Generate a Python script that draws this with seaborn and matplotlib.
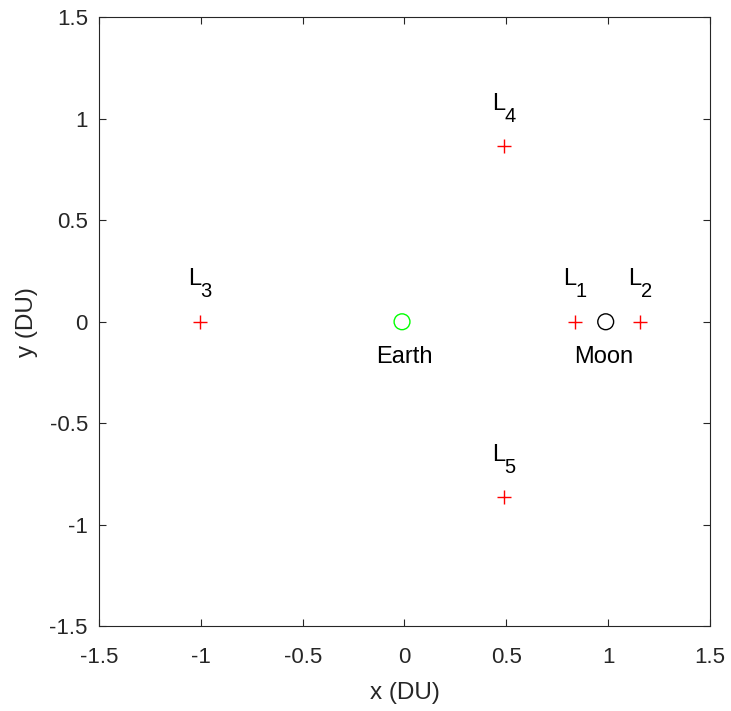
import matplotlib
matplotlib.use("Agg")
from matplotlib import pyplot as plt
import seaborn as sns
import pandas as pd

# Earth-Moon system, rotating frame (DU)
mu = 0.01215
body_names = ['Earth', 'Moon']
body_x = [-mu, 1 - mu]
body_y = [0.0, 0.0]
body_colors = ['#00ff00', 'black']

lpoint_names = ['1', '2', '3', '4', '5']
lpoint_x = [0.8369, 1.1557, -1.0051, 0.4878, 0.4878]
lpoint_y = [0.0, 0.0, 0.0, 0.8660, -0.8660]

ticks = [-1.5, -1, -0.5, 0, 0.5, 1, 1.5]
tick_labels = ['-1.5', '-1', '-0.5', '0', '0.5', '1', '1.5']

sns.set_style('white')
plt.rcParams['font.family'] = ['Liberation Sans', 'DejaVu Sans']

fig = plt.figure(figsize=(7.31, 7.11), dpi=100)
ax = fig.add_axes([0.1354, 0.1195, 0.8359, 0.8559])

df_l = pd.DataFrame({'x': lpoint_x, 'y': lpoint_y, 'name': lpoint_names})
sns.scatterplot(data=df_l, x='x', y='y', marker='+', color='red', s=100,
                linewidth=1.0, ax=ax, legend=False, zorder=3)

df_b = pd.DataFrame({'x': body_x, 'y': body_y, 'name': body_names})
name_shift = [2.0, -1.5]
for i, row in df_b.iterrows():
    sns.scatterplot(x=[row['x']], y=[row['y']], marker='o', s=130,
                    facecolor='none', edgecolor=body_colors[i], linewidth=1.0,
                    ax=ax, legend=False, zorder=3)
    ax.annotate(row['name'], (row['x'], row['y']), xytext=(name_shift[i], -30),
                textcoords='offset points', ha='center', va='baseline',
                fontsize=17, color='black')

# L labels: big "L" with a large, dropped subscript (MATLAB style)
for _, row in df_l.iterrows():
    ax.annotate('L', (row['x'], row['y']), xytext=(0.8, 26.3),
                textcoords='offset points', ha='right', va='baseline',
                fontsize=17, color='black')
    ax.annotate(row['name'], (row['x'], row['y']), xytext=(0.6, 17.6),
                textcoords='offset points', ha='left', va='baseline',
                fontsize=14.5, color='black')

ax.set_xlim(-1.5, 1.5)
ax.set_ylim(-1.5, 1.5)
ax.set_xticks(ticks)
ax.set_xticklabels(tick_labels)
ax.set_yticks(ticks)
ax.set_yticklabels(tick_labels)
ax.tick_params(direction='in', length=5, width=0.8, top=True, right=True,
               bottom=True, left=True, labelsize=16, colors='#262626')
ax.tick_params(axis='x', pad=15)
ax.tick_params(axis='y', pad=8)
for s in ax.spines.values():
    s.set_color('#262626')
    s.set_linewidth(0.8)
ax.set_xlabel('x (DU)', fontsize=17.5, color='#262626', labelpad=10)
ax.set_ylabel('y (DU)', fontsize=17.5, color='#262626', labelpad=8)

fig.savefig('out.png', dpi=100)
